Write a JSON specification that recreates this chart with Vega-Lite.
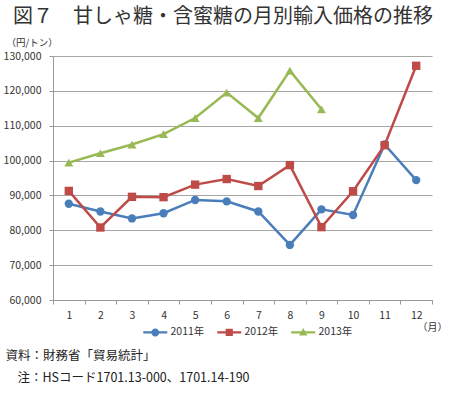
{
  "$schema": "https://vega.github.io/schema/vega-lite/v6.json",
  "width": 379,
  "height": 244,
  "autosize": "none",
  "padding": {"left": 53, "top": 56, "right": 18, "bottom": 93},
  "background": "white",
  "config": {
    "font": "Noto Sans CJK JP",
    "view": {"stroke": null}
  },
  "title": {
    "text": "図７　甘しゃ糖・含蜜糖の月別輸入価格の推移",
    "anchor": "start",
    "frame": "group",
    "dx": -40,
    "fontSize": 20,
    "fontWeight": "normal",
    "color": "#333333",
    "offset": 10
  },
  "data": {
    "values": [
      {"month": 1, "year": "2011年", "price": 87600},
      {"month": 2, "year": "2011年", "price": 85400},
      {"month": 3, "year": "2011年", "price": 83400},
      {"month": 4, "year": "2011年", "price": 84900},
      {"month": 5, "year": "2011年", "price": 88700},
      {"month": 6, "year": "2011年", "price": 88300},
      {"month": 7, "year": "2011年", "price": 85400},
      {"month": 8, "year": "2011年", "price": 75800},
      {"month": 9, "year": "2011年", "price": 86000},
      {"month": 10, "year": "2011年", "price": 84400},
      {"month": 11, "year": "2011年", "price": 104600},
      {"month": 12, "year": "2011年", "price": 94400},
      {"month": 1, "year": "2012年", "price": 91300},
      {"month": 2, "year": "2012年", "price": 80800},
      {"month": 3, "year": "2012年", "price": 89600},
      {"month": 4, "year": "2012年", "price": 89500},
      {"month": 5, "year": "2012年", "price": 93100},
      {"month": 6, "year": "2012年", "price": 94700},
      {"month": 7, "year": "2012年", "price": 92700},
      {"month": 8, "year": "2012年", "price": 98700},
      {"month": 9, "year": "2012年", "price": 80900},
      {"month": 10, "year": "2012年", "price": 91200},
      {"month": 11, "year": "2012年", "price": 104400},
      {"month": 12, "year": "2012年", "price": 127200},
      {"month": 1, "year": "2013年", "price": 99400},
      {"month": 2, "year": "2013年", "price": 102100},
      {"month": 3, "year": "2013年", "price": 104600},
      {"month": 4, "year": "2013年", "price": 107600},
      {"month": 5, "year": "2013年", "price": 112200},
      {"month": 6, "year": "2013年", "price": 119500},
      {"month": 7, "year": "2013年", "price": 112200},
      {"month": 8, "year": "2013年", "price": 125800},
      {"month": 9, "year": "2013年", "price": 114700}
    ]
  },
  "encoding": {
    "color": {
      "field": "year",
      "type": "nominal",
      "scale": {"domain": ["2011年", "2012年", "2013年"], "range": ["#4a7ebb", "#be4b48", "#98b954"]},
      "legend": {
        "title": null,
        "orient": "none",
        "direction": "horizontal",
        "legendX": 97,
        "legendY": 271,
        "labelFontSize": 10.5,
        "labelColor": "#333333",
        "symbolSize": 64,
        "labelOffset": 10,
        "columnPadding": 12,
        "encoding": {
          "symbols": {
            "shape": {"value": {"expr": "datum.value == '2011年' ? 'M-3,-0.3H3V0.3H-3Z M-1,0A1,1 0 1,1 1,0A1,1 0 1,1 -1,0Z' : datum.value == '2012年' ? 'M-3,-0.3H3V0.3H-3Z M-0.9,-0.9H0.9V0.9H-0.9Z' : 'M-3,-0.3H3V0.3H-3Z M0,-1.1L1.05,0.8H-1.05Z'"}},
            "fill": {"value": {"expr": "datum.value == '2011年' ? '#4a7ebb' : datum.value == '2012年' ? '#be4b48' : '#98b954'"}},
            "strokeWidth": {"value": 0},
            "opacity": {"value": 1}
          }
        }
      }
    }
  },
  "layer": [
    {
      "mark": {"type": "line", "strokeWidth": 2.5},
      "encoding": {
        "x": {
          "field": "month",
          "type": "ordinal",
          "scale": {"type": "band", "paddingInner": 0, "paddingOuter": 0},
          "bandPosition": 0.5,
          "axis": {
            "title": "（月）",
            "titleFontSize": 10,
            "titleFontWeight": "normal",
            "titleColor": "#333333",
            "titleAnchor": "end",
            "titleAlign": "left",
            "titleX": 364,
            "titleY": 22,
            "labelAngle": 0,
            "labelFontSize": 10.5,
            "labelColor": "#333333",
            "labelPadding": 6,
            "tickBand": "extent",
            "tickSize": 4,
            "tickColor": "#999999",
            "domainColor": "#999999",
            "grid": false
          }
        },
        "y": {
          "field": "price",
          "type": "quantitative",
          "scale": {"domain": [60000, 130000], "nice": false, "zero": false},
          "axis": {
            "values": [60000, 70000, 80000, 90000, 100000, 110000, 120000, 130000],
            "format": ",.0f",
            "title": "（円/トン）",
            "titleAngle": 0,
            "titleX": -47,
            "titleY": -14,
            "titleAlign": "left",
            "titleBaseline": "middle",
            "titleFontSize": 9.5,
            "titleFontWeight": "normal",
            "titleColor": "#333333",
            "labelFontSize": 10.5,
            "labelColor": "#333333",
            "labelPadding": 8,
            "tickSize": 4,
            "tickColor": "#999999",
            "domainColor": "#999999",
            "gridColor": "#a6a6a6",
            "gridWidth": 1
          }
        }
      }
    },
    {
      "transform": [{"filter": "datum.year == '2011年'"}],
      "mark": {"type": "point", "shape": "circle", "filled": true, "size": 70, "opacity": 1},
      "encoding": {
        "x": {"field": "month", "type": "ordinal", "bandPosition": 0.5, "axis": null},
        "y": {"field": "price", "type": "quantitative", "axis": null}
      }
    },
    {
      "transform": [{"filter": "datum.year == '2012年'"}],
      "mark": {"type": "point", "shape": "square", "filled": true, "size": 70, "opacity": 1},
      "encoding": {
        "x": {"field": "month", "type": "ordinal", "bandPosition": 0.5, "axis": null},
        "y": {"field": "price", "type": "quantitative", "axis": null}
      }
    },
    {
      "transform": [{"filter": "datum.year == '2013年'"}],
      "mark": {"type": "point", "shape": "triangle-up", "filled": true, "size": 80, "opacity": 1},
      "encoding": {
        "x": {"field": "month", "type": "ordinal", "bandPosition": 0.5, "axis": null},
        "y": {"field": "price", "type": "quantitative", "axis": null}
      }
    },
    {
      "mark": {"type": "point", "opacity": 0},
      "encoding": {
        "x": {
          "field": "month",
          "type": "ordinal",
          "bandPosition": 0.5,
          "axis": {
            "orient": "top",
            "labels": false,
            "ticks": false,
            "domain": false,
            "grid": false,
            "title": "資料：財務省「貿易統計」",
            "titleFontSize": 12.5,
            "titleFontWeight": "normal",
            "titleColor": "#222222",
            "titleAnchor": "start",
            "titleAlign": "left",
            "titleBaseline": "alphabetic",
            "titleX": -48,
            "titleY": 303
          }
        },
        "y": {
          "field": "price",
          "type": "quantitative",
          "axis": {
            "orient": "right",
            "labels": false,
            "ticks": false,
            "domain": false,
            "grid": false,
            "title": "注：HSコード1701.13-000、1701.14-190",
            "titleAngle": 0,
            "titleFontSize": 12.5,
            "titleFontWeight": "normal",
            "titleColor": "#222222",
            "titleAnchor": "start",
            "titleAlign": "left",
            "titleBaseline": "alphabetic",
            "titleX": -415,
            "titleY": 325
          }
        },
        "color": {"value": "#000000"}
      }
    }
  ],
  "resolve": {"axis": {"x": "independent", "y": "independent"}}
}
